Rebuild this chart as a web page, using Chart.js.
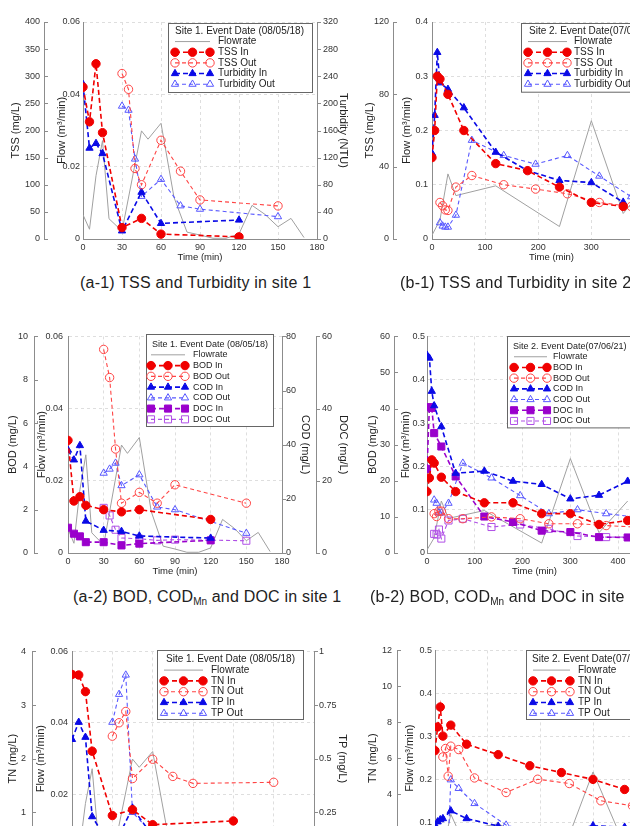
<!DOCTYPE html>
<html>
<head>
<meta charset="utf-8">
<script src="https://cdn.jsdelivr.net/npm/chart.js@4.4.1/dist/chart.umd.min.js"></script>
<style>
  html, body { margin: 0; padding: 0; background: #fff; overflow: hidden; width: 630px; height: 826px; }
  canvas { position: absolute; }
  .cap { position: absolute; font-family: "Liberation Sans", Arial, sans-serif; font-size: 16px; line-height: 16px;
         color: #222; letter-spacing: 0.2px; white-space: nowrap; }
  .cap sub { font-size: 10px; vertical-align: -3px; letter-spacing: 0; }
</style>
</head>
<body>
<canvas id="a1" width="360" height="262" style="left:0;top:10px"></canvas>
<canvas id="b1" width="360" height="262" style="left:356px;top:10px"></canvas>
<canvas id="a2" width="360" height="260" style="left:0;top:325px"></canvas>
<canvas id="b2" width="360" height="260" style="left:356px;top:325px"></canvas>
<canvas id="a3" width="360" height="260" style="left:0;top:640px"></canvas>
<canvas id="b3" width="360" height="260" style="left:356px;top:640px"></canvas>

<div class="cap" style="left:80px;top:275px">(a-1) TSS and Turbidity in site 1</div>
<div class="cap" style="left:400px;top:275px">(b-1) TSS and Turbidity in site 2</div>
<div class="cap" style="left:73px;top:589px">(a-2) BOD, COD<sub>Mn</sub> and DOC in site 1</div>
<div class="cap" style="left:370px;top:589px">(b-2) BOD, COD<sub>Mn</sub> and DOC in site 2</div>

<script>
// ---- site 1 (08/05/18) ----
const s1FlowT = [0, 5, 10, 15, 20, 30, 45, 50, 60, 70, 80, 90, 100, 110, 120, 130, 140, 150, 160, 170];
const s1Flow = [0.0067, 0.0027, 0.0175, 0.0272, 0.0056, 0.0022, 0.0299, 0.0276, 0.032, 0.0115, 0.0019, 0.0011, 0.0002, 0.0002, 0.0014, 0.0093, 0.0068, 0.0034, 0.0057, 0.0004];
const s1InT = [0, 5, 10, 15, 30, 45, 60, 120];
const s1OutT = [30, 35, 40, 45, 60, 75, 90, 150];

const tssIn1 = [280, 216, 323, 196, 21, 38, 9, 4];
const tssOut1 = [305, 276, 130, 100, 182, 125, 72, 61];
const turbIn1 = [228, 134, 141, 126, 12, 69, 23, 28];
const turbOut1 = [196, 190, 118, 63, 88, 49, 44, 33];

const bodIn1 = [5.2, 2.4, 2.6, 2.2, 2.0, 1.9, 2.0, 1.55];
const bodOut1 = [9.4, 8.1, 4.8, 2.3, 2.8, 2.3, 3.15, 2.3];
const codIn1 = [38, 34.4, 39.7, 11.8, 8.4, 8.0, 6.3, 5.5];
const codOut1 = [29.5, 31, 33.2, 24.9, 28.9, 17, 16, 7.3];
const docIn1 = [7.0, 5.35, 4.6, 3.0, 3.0, 2.1, 2.6, 3.5];
const docOut1 = [12.5, 10.4, 6.45, 4.15, 3.96, 3.5, 3.7, 3.4];

const tnIn1 = [3.57, 3.56, 3.25, 2.14, 0.94, 1.05, 0.77, 0.84];
const tnOut1 = [2.42, 2.67, 2.88, 1.63, 1.99, 1.67, 1.54, 1.56];
const tpIn1 = [0.59, 0.67, 0.6, 0.23, 0.08, 0.27, 0.14, 0.1];
const tpOut1 = [0.67, 0.8, 0.89, 0.25, 0.15, 0.12, 0.1, 0.08];

// ---- site 2 (07/06/21) ----
const s2FlowT = [0, 15, 30, 45, 120, 240, 300, 360, 420];
const s2Flow = [0.007, 0.035, 0.12, 0.08, 0.098, 0.023, 0.218, 0.047, 0.12];
const s2InT = [0, 5, 10, 15, 30, 60, 120, 180, 240, 300, 360];
const s2OutT = [15, 20, 25, 30, 45, 75, 135, 195, 255, 315, 375];
const s2InT2 = [0, 5, 10, 15, 30, 60, 120, 180, 240, 300, 360, 420];
const s2OutT2 = [15, 20, 25, 30, 45, 75, 135, 195, 255, 315, 375, 435];

const tssIn2 = [45, 60, 90, 88.5, 80, 60, 41.7, 37.8, 28.7, 20.2, 18];
const tssOut2 = [20.2, 18.4, 16.1, 15.8, 28.7, 35.1, 30, 27.6, 25, 20.2, 18];
const turbIn2 = [79, 114, 172, 144, 138, 121, 80, 63, 54, 52, 34];
const turbOut2 = [15, 12, 11, 11, 22, 91, 77, 69, 77, 58, 39];

const bodIn2 = [17, 20.8, 25.8, 24.9, 21, 17, 13.9, 13.9, 10.9, 10.9, 7.9, 9];
const bodOut2 = [10.9, 10.1, 11.6, 11.6, 9.5, 9.5, 10, 9.5, 8.1, 8.1, 7.6, 7.2];
const codIn2 = [54.8, 54, 44.8, 40.8, 35, 22.1, 22.7, 19.9, 19, 15, 16, 19.9];
const codOut2 = [14.7, 13.8, 11.1, 11.1, 13.8, 24.9, 20.8, 15.9, 10.9, 12, 10.9, 10];
const docIn2 = [23.3, 40.4, 40.2, 33.2, 29.5, 21.2, 10.1, 8.6, 6.2, 5.8, 4.4, 4.3];
const docOut2 = [5.3, 5.1, 6.5, 4.0, 9.0, 9.5, 7.2, 7.9, 6.7, 4.7, 4.4, 4.4];

const tnIn2 = [6.42, 7.74, 8.85, 7.23, 7.84, 6.78, 6.2, 5.58, 5.2, 4.82, 4.26];
const tnOut2 = [6.07, 6.54, 5.0, 6.67, 6.48, 4.9, 4.09, 4.83, 4.59, 3.63, 3.35];
const tpIn2 = [0.19, 0.205, 0.215, 0.22, 0.256, 0.22, 0.185, 0.16, 0.15, 0.187, 0.18];
const tpOut2 = [0.08, 0.09, 0.1, 0.4, 0.36, 0.29, 0.19, 0.15, 0.13, 0.16, 0.14];

const RED = '#f00000', RED_O = '#ff4444';
const BLUE = '#0a0ae6', BLUE_O = '#5858ff';
const PURP = '#9a00cc', PURP_O = '#b050e6';
const GRAY = '#a0a0a0', AXIS = '#8c8c8c', GRID = '#dedede';

Chart.defaults.font.family = '"Liberation Sans", Arial, sans-serif';
Chart.defaults.color = '#333';

function pts(t, v) { return t.map((x, i) => ({ x: x, y: v[i] })); }
function fmt(v) { return String(Math.round(v * 1000) / 1000); }

function flowSet(t, v) {
  return { label: 'Flowrate', data: pts(t, v), yAxisID: 'yF', borderColor: GRAY, borderWidth: 1,
           pointRadius: 0, order: 10 };
}
function inSet(label, t, v, axis, color, shape) {
  return { label, data: pts(t, v), yAxisID: axis, borderColor: color, borderWidth: 1.6, borderDash: [5, 3],
           pointStyle: shape, pointRadius: shape === 'rect' ? 5 : 4.2,
           pointBackgroundColor: color, pointBorderColor: color, pointBorderWidth: 1 };
}
function outSet(label, t, v, axis, color, shape) {
  return { label, data: pts(t, v), yAxisID: axis, borderColor: color, borderWidth: 1.1, borderDash: [4, 3],
           pointStyle: shape, pointRadius: shape === 'rect' ? 5 : 4.2,
           pointBackgroundColor: 'rgba(255,255,255,0)', pointBorderColor: color, pointBorderWidth: 1 };
}

function sideAxis(position, weight, min, max, step, title, width, titlePad, labelPad) {
  return {
    type: 'linear', position, weight, min, max,
    afterFit: s => { s.width = width; },
    grid: { display: false, drawTicks: false },
    border: { display: true, color: AXIS },
    ticks: { stepSize: step, padding: labelPad, font: { size: 9 }, color: '#333', callback: fmt },
    title: { display: true, text: title, font: { size: 11 }, color: '#222', padding: { top: titlePad, bottom: 0 } }
  };
}
function flowAxis(weight, max, step, width, titlePad, labelPad) {
  const a = sideAxis('left', weight, 0, max, step, 'Flow (m³/min)', width, titlePad, labelPad);
  a.grid = { display: true, drawTicks: false, color: GRID };
  a.border = { display: true, color: AXIS, dash: [3, 3] };
  return a;
}
function timeAxis(max, step) {
  return {
    type: 'linear', min: 0, max,
    afterFit: s => { s.height = 30; },
    afterBuildTicks: s => { s.ticks = s.ticks.filter(t => t.value % step === 0); },
    grid: { color: GRID, drawTicks: false },
    border: { display: true, color: AXIS, dash: [3, 3] },
    ticks: { stepSize: step, padding: 3, font: { size: 9 }, color: '#333', maxRotation: 0, autoSkip: false },
    title: { display: true, text: 'Time (min)', font: { size: 9.5 }, color: '#222', padding: { top: 0, bottom: 6 } }
  };
}

// legend box drawn inside the plot, with three markers on each sample line
const boxLegend = {
  id: 'boxLegend',
  afterDatasetsDraw(chart, args, o) {
    if (!o || !o.title) return;
    const ctx = chart.ctx, a = chart.chartArea;
    const x = a.left + o.dx, y = a.top + o.dy;
    const sets = chart.data.datasets;
    const h = o.pad + o.rowH * (sets.length + 1) + o.padB;
    ctx.save();
    ctx.fillStyle = '#fff';
    ctx.fillRect(x, y, o.w, h);
    ctx.strokeStyle = '#666';
    ctx.lineWidth = 1;
    ctx.strokeRect(Math.round(x) + 0.5, Math.round(y) + 0.5, o.w, h);
    ctx.font = o.font + 'px "Liberation Sans", Arial, sans-serif';
    ctx.textBaseline = 'middle';
    ctx.fillStyle = '#222';
    ctx.fillText(o.title, x + o.titleX, y + o.pad + o.rowH / 2);
    sets.forEach((ds, i) => {
      const cy = y + o.pad + o.rowH * (i + 1.5);
      const x0 = x + o.sx, x1 = x0 + o.sw;
      ctx.strokeStyle = ds.borderColor;
      ctx.lineWidth = ds.borderWidth;
      ctx.setLineDash(ds.borderDash || []);
      ctx.beginPath(); ctx.moveTo(x0, cy); ctx.lineTo(x1, cy); ctx.stroke();
      ctx.setLineDash([]);
      if (ds.pointRadius > 0) {
        [x0, (x0 + x1) / 2, x1].forEach(px => {
          ctx.fillStyle = ds.pointBackgroundColor;
          ctx.strokeStyle = ds.pointBorderColor;
          ctx.lineWidth = ds.pointBorderWidth;
          Chart.helpers.drawPoint(ctx, { pointStyle: ds.pointStyle, radius: ds.pointRadius,
                                         borderWidth: ds.pointBorderWidth, rotation: 0 }, px, cy);
        });
      }
      ctx.fillStyle = '#222';
      ctx.fillText(ds.label, x1 + o.tx, cy);
    });
    ctx.restore();
  }
};

// small tick marks pointing right on the side axes
const sideTicks = {
  id: 'sideTicks',
  afterDraw(chart, args, o) {
    if (!o || !o.axes) return;
    const ctx = chart.ctx;
    ctx.save();
    ctx.strokeStyle = AXIS;
    ctx.lineWidth = 1;
    o.axes.forEach(id => {
      const s = chart.scales[id];
      if (!s) return;
      const ax = Math.round(s.position === 'left' ? s.right : s.left);
      s.ticks.forEach(t => {
        const py = Math.round(s.getPixelForValue(t.value)) + 0.5;
        ctx.beginPath(); ctx.moveTo(ax, py); ctx.lineTo(ax + 4, py); ctx.stroke();
      });
    });
    ctx.restore();
  }
};
Chart.register(boxLegend, sideTicks);

function opts(padding, scales, legend, tickAxes) {
  return {
    responsive: false, animation: false, devicePixelRatio: 1,
    layout: { padding },
    plugins: { legend: { display: false }, tooltip: { enabled: false },
               boxLegend: legend, sideTicks: { axes: tickAxes } },
    scales
  };
}

// (a-1)
new Chart(document.getElementById('a1'), {
  type: 'line',
  data: { datasets: [
    flowSet(s1FlowT, s1Flow),
    inSet('TSS In', s1InT, tssIn1, 'yL', RED, 'circle'),
    outSet('TSS Out', s1OutT, tssOut1, 'yL', RED_O, 'circle'),
    inSet('Turbidity In', s1InT, turbIn1, 'yR', BLUE, 'triangle'),
    outSet('Turbidity Out', s1OutT, turbOut1, 'yR', BLUE_O, 'triangle')
  ] },
  options: opts({ left: 4, top: 12, right: 3, bottom: 3 }, {
    x: timeAxis(180, 30),
    yL: sideAxis('left', 2, 0, 400, 50, 'TSS (mg/L)', 40, 5.5, 4),
    yF: flowAxis(1, 0.06, 0.02, 39, 11.5, 3),
    yR: sideAxis('right', 1, 0, 320, 40, 'Turbidity (NTU)', 40, 7.5, 6)
  }, { title: 'Site 1. Event Date (08/05/18)', dx: 85, dy: 1, w: 144, font: 10, pad: 2.6, rowH: 10.65,
       padB: 2.5, titleX: 7, sx: 7, sw: 35, tx: 8 }, ['yL', 'yR'])
});

// (b-1)
new Chart(document.getElementById('b1'), {
  type: 'line',
  data: { datasets: [
    flowSet(s2FlowT, s2Flow),
    inSet('TSS In', s2InT, tssIn2, 'yL', RED, 'circle'),
    outSet('TSS Out', s2OutT, tssOut2, 'yL', RED_O, 'circle'),
    inSet('Turbidity In', s2InT, turbIn2, 'yR', BLUE, 'triangle'),
    outSet('Turbidity Out', s2OutT, turbOut2, 'yR', BLUE_O, 'triangle')
  ] },
  options: opts({ left: 0, top: 12, right: 5, bottom: 3 }, {
    x: timeAxis(450, 100),
    yL: sideAxis('left', 2, 0, 120, 40, 'TSS (mg/L)', 37, 7.5, 4),
    yF: flowAxis(1, 0.4, 0.1, 39, 7.5, 4),
    yR: sideAxis('right', 1, 0, 200, 40, 'Turbidity (NTU)', 40, 7.5, 6)
  }, { title: 'Site 2. Event Date(07/06/21)', dx: 89, dy: 1, w: 146, font: 10, pad: 2.6, rowH: 10.65,
       padB: 2.2, titleX: 8, sx: 7, sw: 39, tx: 7 }, ['yL'])
});

// (a-2)
new Chart(document.getElementById('a2'), {
  type: 'line',
  data: { datasets: [
    flowSet(s1FlowT, s1Flow),
    inSet('BOD In', s1InT, bodIn1, 'yL', RED, 'circle'),
    outSet('BOD Out', s1OutT, bodOut1, 'yL', RED_O, 'circle'),
    inSet('COD In', s1InT, codIn1, 'yR', BLUE, 'triangle'),
    outSet('COD Out', s1OutT, codOut1, 'yR', BLUE_O, 'triangle'),
    inSet('DOC In', s1InT, docIn1, 'yR2', PURP, 'rect'),
    outSet('DOC Out', s1OutT, docOut1, 'yR2', PURP_O, 'rect')
  ] },
  options: opts({ left: 0, top: 10, right: 4, bottom: 2 }, {
    x: timeAxis(180, 30),
    yL: sideAxis('left', 2, 0, 10, 2, 'BOD (mg/L)', 34, 6.5, 6),
    yF: flowAxis(1, 0.06, 0.02, 34, 1.5, 5),
    yR: sideAxis('right', 1, 0, 80, 20, 'COD (mg/L)', 34, 4.5, 4),
    yR2: sideAxis('right', 2, 0, 60, 20, 'DOC (mg/L)', 40, 6.5, 6)
  }, { title: 'Site 1. Event Date (08/05/18)', dx: 78, dy: -2, w: 127, font: 9, pad: 4.3, rowH: 10.75,
       padB: 1.7, titleX: 6, sx: 5, sw: 34, tx: 8 }, ['yL', 'yR', 'yR2'])
});

// (b-2)
new Chart(document.getElementById('b2'), {
  type: 'line',
  data: { datasets: [
    flowSet(s2FlowT, s2Flow),
    inSet('BOD In', s2InT2, bodIn2, 'yL', RED, 'circle'),
    outSet('BOD Out', s2OutT2, bodOut2, 'yL', RED_O, 'circle'),
    inSet('COD In', s2InT2, codIn2, 'yR', BLUE, 'triangle'),
    outSet('COD Out', s2OutT2, codOut2, 'yR', BLUE_O, 'triangle'),
    inSet('DOC In', s2InT2, docIn2, 'yR2', PURP, 'rect'),
    outSet('DOC Out', s2OutT2, docOut2, 'yR2', PURP_O, 'rect')
  ] },
  options: opts({ left: 0, top: 10, right: 0, bottom: 2 }, {
    x: timeAxis(450, 100),
    yL: sideAxis('left', 2, 0, 60, 10, 'BOD (mg/L)', 38, 10.5, 4),
    yF: flowAxis(1, 0.5, 0.1, 33, 5.5, 2),
    yR: sideAxis('right', 1, 0, 60, 20, 'COD (mg/L)', 34, 4.5, 4),
    yR2: sideAxis('right', 2, 0, 60, 20, 'DOC (mg/L)', 40, 6.5, 6)
  }, { title: 'Site 2. Event Date(07/06/21)', dx: 80, dy: 0, w: 130, font: 9, pad: 4.3, rowH: 10.7,
       padB: 1.5, titleX: 6, sx: 7, sw: 33, tx: 6 }, ['yL'])
});

// (a-3)
new Chart(document.getElementById('a3'), {
  type: 'line',
  data: { datasets: [
    flowSet(s1FlowT, s1Flow),
    inSet('TN In', s1InT, tnIn1, 'yL', RED, 'circle'),
    outSet('TN Out', s1OutT, tnOut1, 'yL', RED_O, 'circle'),
    inSet('TP In', s1InT, tpIn1, 'yR', BLUE, 'triangle'),
    outSet('TP Out', s1OutT, tpOut1, 'yR', BLUE_O, 'triangle')
  ] },
  options: opts({ left: 0, top: 10, right: 4, bottom: 4 }, {
    x: timeAxis(180, 30),
    yL: sideAxis('left', 2, 0, 4, 1, 'TN (mg/L)', 32, 6.5, 6),
    yF: flowAxis(1, 0.06, 0.02, 40, 2.5, 4),
    yR: sideAxis('right', 1, 0, 1, 0.25, 'TP (mg/L)', 42, 7.5, 5)
  }, { title: 'Site 1. Event Date (08/05/18)', dx: 85, dy: -1, w: 146, font: 10, pad: 3.5, rowH: 10.8,
       padB: 0.7, titleX: 9, sx: 7, sw: 39, tx: 8 }, ['yL', 'yR'])
});

// (b-3)
new Chart(document.getElementById('b3'), {
  type: 'line',
  data: { datasets: [
    flowSet(s2FlowT, s2Flow),
    inSet('TN In', s2InT, tnIn2, 'yL', RED, 'circle'),
    outSet('TN Out', s2OutT, tnOut2, 'yL', RED_O, 'circle'),
    inSet('TP In', s2InT, tpIn2, 'yR', BLUE, 'triangle'),
    outSet('TP Out', s2OutT, tpOut2, 'yR', BLUE_O, 'triangle')
  ] },
  options: opts({ left: 0, top: 10, right: 4, bottom: 4 }, {
    x: timeAxis(450, 100),
    yL: sideAxis('left', 2, 0, 12, 2, 'TN (mg/L)', 41, 10.5, 5),
    yF: flowAxis(1, 0.5, 0.1, 38, 6.5, 3),
    yR: sideAxis('right', 1, 0, 1, 0.25, 'TP (mg/L)', 40, 7.5, 5)
  }, { title: 'Site 2. Event Date(07/06/21)', dx: 91, dy: 0, w: 146, font: 10, pad: 3.5, rowH: 10.8,
       padB: 0.7, titleX: 6, sx: 7, sw: 37, tx: 8 }, ['yL'])
});
</script>
</body>
</html>
